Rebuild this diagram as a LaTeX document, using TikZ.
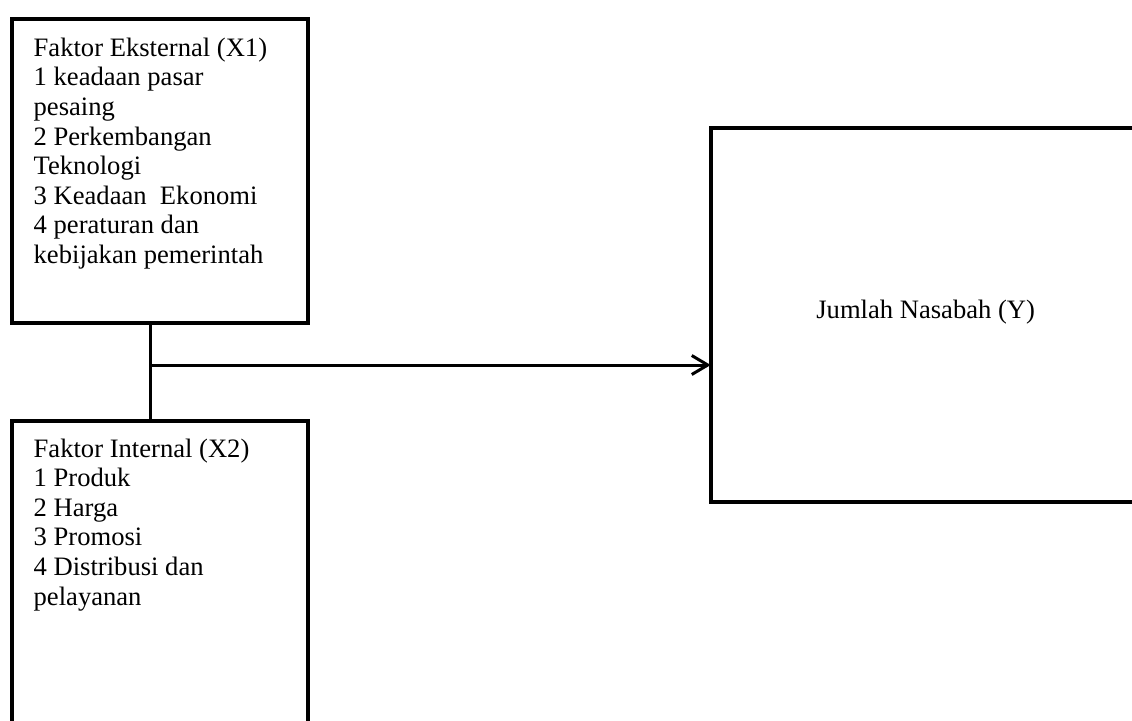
\documentclass[tikz,border=0pt]{standalone}
\usepackage{fontspec}
\setmainfont{Liberation Serif}
\usetikzlibrary{arrows.meta,calc}
\tikzset{
  box/.style  = {draw, line width=2pt, inner sep=0pt, outer sep=0pt,
                 anchor=north west},
  txt/.style  = {font=\fontsize{13.3}{14.8}\selectfont, align=left,
                 inner sep=0pt, anchor=north west},
  link/.style = {line width=1.5pt},
  arr/.style  = {link, -{Straight Barb[length=8pt,width=9.5pt]}},
}
\begin{document}
\begin{tikzpicture}[x=0.5pt, y=-0.5pt]
  \useasboundingbox (0,0) rectangle (1132,720);
  \clip (0,0) rectangle (1132,720);
  % the three boxes
  \node[box, minimum width=148.3pt, minimum height=152.15pt] (ext) at (11.7,18.7) {};
  \node[box, minimum width=148pt, minimum height=159.75pt] (int) at (12,420.5) {};
  \node[box, minimum width=215pt, minimum height=187.25pt] (jumlah) at (710.7,127.5) {};
  \node[txt] (extlbl) at (33.3,37.5) {Faktor Eksternal (X1)\\1 keadaan pasar\\pesaing\\2 Perkembangan\\Teknologi\\3 Keadaan\ \ Ekonomi\\4 peraturan dan\\kebijakan pemerintah};
  \node[txt] (intlbl) at (33.3,438.2) {Faktor Internal (X2)\\1 Produk\\2 Harga\\3 Promosi\\4 Distribusi dan\\pelayanan};
  \node[txt, anchor=base] (jumlahlbl) at ($(jumlah.center)+(0,3.55)$) {Jumlah Nasabah (Y)};
  % connectors
  \coordinate (jn) at (150.3,365);
  \draw[link] (ext.south -| jn) -- (int.north -| jn);
  \draw[arr] (jn) -- (jumlah.west |- jn);
\end{tikzpicture}
\end{document}
